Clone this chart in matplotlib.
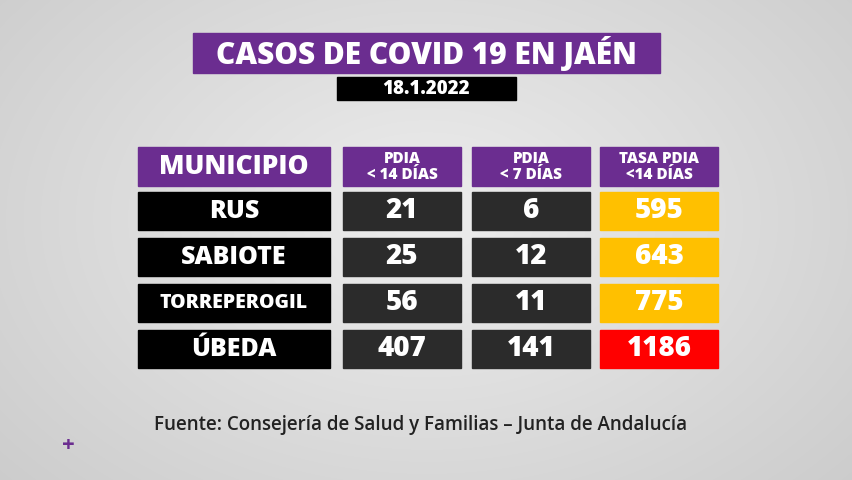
import matplotlib
matplotlib.use("Agg")
import matplotlib.pyplot as plt
from matplotlib.patches import Rectangle
import numpy as np

municipios = ["RUS", "SABIOTE", "TORREPEROGIL", "ÚBEDA"]
pdia14 = [21, 25, 56, 407]
pdia7 = [6, 12, 11, 141]
tasa14 = [595, 643, 775, 1186]
headers = ["MUNICIPIO", "PDIA\n< 14 DÍAS", "PDIA\n< 7 DÍAS", "TASA PDIA\n<14 DÍAS"]
title = "CASOS DE COVID 19 EN JAÉN"
date = "18.1.2022"
source = "Fuente: Consejería de Salud y Familias – Junta de Andalucía"

W, H = 853, 480
fig = plt.figure(figsize=(W/100, H/100), dpi=100)
ax = fig.add_axes([0, 0, 1, 1])
ax.set_xlim(0, W); ax.set_ylim(H, 0); ax.axis("off")

yy, xx = np.mgrid[0:H, 0:W]
d = np.sqrt(((xx-W/2)/(W/1.6))**2 + ((yy-H/2.2)/(H/1.3))**2)
bg = 0.93 - 0.12*d
ax.imshow(np.dstack([bg, bg, bg]), extent=[0, W, H, 0], zorder=0)

purple = "#6b2d90"
font = "Open Sans"

def box(x0, y0, x1, y1, c):
    ax.add_patch(Rectangle((x0, y0), x1-x0, y1-y0, color=c, zorder=1))

box(193, 33, 660, 73, purple)
ax.text(426, 53, title, color="white", fontsize=21.5, fontweight="heavy", ha="center", va="center", family=font)
box(337, 77, 516, 100, "black")
ax.text(426, 88.5, date, color="white", fontsize=13.5, fontweight="heavy", ha="center", va="center", family=font)

cols = [(138, 330), (343, 461), (472, 590), (600, 718)]
for (x0, x1) in cols:
    box(x0, 147, x1, 186, purple)
for i, h in enumerate(headers):
    cx = sum(cols[i]) / 2
    fs = 19 if i == 0 else 11
    ax.text(cx, 167, h, color="white", fontsize=fs, fontweight="heavy", ha="center", va="center",
            family=font, linespacing=1.0)

rows_y = [192, 238, 284, 330]
for r, y0 in enumerate(rows_y):
    y1 = y0 + 38; cy = (y0 + y1) / 2
    box(cols[0][0], y0, cols[0][1], y1, "black")
    fsn = 14 if len(municipios[r]) > 10 else 18
    ax.text(sum(cols[0])/2, cy, municipios[r], color="white", fontsize=fsn, fontweight="heavy",
            ha="center", va="center", family=font)
    for c, vals in ((1, pdia14), (2, pdia7)):
        box(cols[c][0], y0, cols[c][1], y1, "#2b2b2b")
        ax.text(sum(cols[c])/2, cy, str(vals[r]), color="white", fontsize=20, fontweight="heavy",
                ha="center", va="center", family=font)
    col = "#ff0000" if tasa14[r] > 1000 else "#ffc000"
    box(cols[3][0], y0, cols[3][1], y1, col)
    ax.text(sum(cols[3])/2, cy, str(tasa14[r]), color="white", fontsize=20, fontweight="heavy",
            ha="center", va="center", family=font)

ax.text(421, 425, source, color="#222222", fontsize=13.5, fontweight="semibold", ha="center", va="center", family=font)
ax.text(68, 446, "+", color=purple, fontsize=16, fontweight="bold", ha="center", va="center", family=font)

fig.savefig("out.png", dpi=100)
